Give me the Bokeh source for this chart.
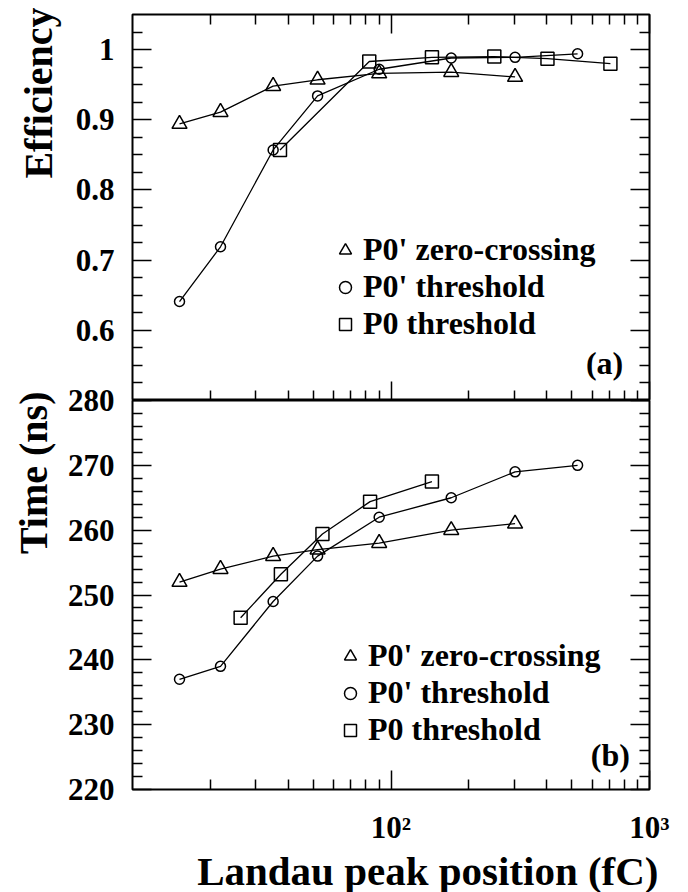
from bokeh.plotting import figure
from bokeh.layouts import column
from bokeh.models import (LogAxis, LinearAxis, FixedTicker, Range1d, Legend, LegendItem,
                          Label, CustomJSTickFormatter, Title)
from bokeh.embed import file_html
from bokeh.resources import INLINE

# ---------------- data ----------------
# Landau peak position (fC)
x_zero_cross = [15.2, 21.9, 35, 52, 90, 171, 302]
x_p0p_thr = [15.2, 21.9, 35, 52, 90, 171, 302, 527]
x_p0_thr_eff = [37.2, 82.4, 144, 251, 403, 706]
x_p0_thr_time = [26.2, 37.5, 54.3, 83, 144]

# efficiency (panel a)
eff_zero_cross = [0.894, 0.911, 0.948, 0.957, 0.966, 0.968, 0.961]
eff_p0p_thr = [0.641, 0.719, 0.857, 0.934, 0.972, 0.988, 0.989, 0.994]
eff_p0_thr = [0.857, 0.983, 0.989, 0.990, 0.987, 0.980]

# time in ns (panel b)
time_zero_cross = [252, 254, 256, 257, 258, 260, 261]
time_p0p_thr = [237, 239, 249, 256, 262, 265, 269, 270]
time_p0_thr = [246.5, 253.2, 259.4, 264.4, 267.5]

series_labels = ["P0' zero-crossing", "P0' threshold", "P0 threshold"]

x_ticks = [100, 1000]
x_tick_labels = ["10²", "10³"]
x_minor = [20, 30, 40, 50, 60, 70, 80, 90, 200, 300, 400, 500, 600, 700, 800, 900]

eff_ticks = [0.6, 0.7, 0.8, 0.9, 1]
eff_minor = [0.525, 0.55, 0.575, 0.625, 0.65, 0.675, 0.725, 0.75, 0.775,
             0.825, 0.85, 0.875, 0.925, 0.95, 0.975, 1.025]
time_ticks = [220, 230, 240, 250, 260, 270, 280]
time_minor = [t + d for t in time_ticks[:-1] for d in (2, 4, 6, 8)]

FONT = "Liberation Serif"
OVERLAP = 51


def style_axis(ax, show_labels):
    ax.axis_line_color = None
    ax.major_tick_in = 19
    ax.major_tick_out = 0
    ax.minor_tick_in = 10
    ax.minor_tick_out = 0
    ax.major_tick_line_width = 1.5
    ax.minor_tick_line_width = 1.5
    ax.major_tick_line_color = "black"
    ax.minor_tick_line_color = "black"
    ax.major_label_text_font = FONT
    ax.major_label_text_font_style = "bold"
    ax.major_label_text_color = "black"
    if show_labels:
        ax.major_label_text_font_size = "31px"
    else:
        ax.major_label_text_font_size = "1px"
        ax.major_label_text_alpha = 0
        ax.major_label_standoff = 0


def make_title(text, align, standoff, offset, size="40px"):
    return Title(text=text, align=align, standoff=standoff, offset=offset,
                 text_font=FONT, text_font_style="bold", text_font_size=size,
                 text_color="black")


def make_fig(yr, fh, top, bottom):
    p = figure(x_axis_type="log", x_range=Range1d(10, 1000), y_range=Range1d(*yr),
               frame_width=517, frame_height=fh,
               min_border_left=132, min_border_right=39,
               min_border_top=top, min_border_bottom=bottom,
               output_backend="svg", toolbar_location=None,
               x_axis_location=None, y_axis_location=None)
    p.grid.visible = False
    p.outline_line_color = "black"
    p.outline_line_width = 2
    p.background_fill_color = "white"
    p.border_fill_color = "white"
    return p


def add_series(p, xs_list, ys_list):
    markers = [("triangle", 15), ("circle", 10), ("square", 13)]
    rends = []
    for xs, ys, (m, s) in zip(xs_list, ys_list, markers):
        p.line(xs, ys, line_color="black", line_width=1.3)
        r = p.scatter(xs, ys, marker=m, size=s, line_color="black", line_width=1.5,
                      fill_color=None)
        rends.append(r)
    return rends


def add_legend(p, rends, loc):
    items = [LegendItem(label=lab, renderers=[r]) for lab, r in zip(series_labels, rends)]
    lg = Legend(items=items, location=loc, padding=0, margin=0, spacing=0,
                glyph_width=30, glyph_height=30, label_standoff=3,
                label_text_font=FONT, label_text_font_style="bold",
                label_text_font_size="32px", label_text_color="black",
                border_line_alpha=0, background_fill_alpha=0)
    p.add_layout(lg)


x_fmt = CustomJSTickFormatter(args=dict(t=x_ticks, l=x_tick_labels),
                              code="const i = t.indexOf(tick); return i >= 0 ? l[i] : '';")
y_fmt = CustomJSTickFormatter(code="return tick.toString();")

# ---------------- panel (a) ----------------
p1 = make_fig((0.5, 1.05), 386, 14, 0)
r1 = add_series(p1, [x_zero_cross, x_p0p_thr, x_p0_thr_eff],
                [eff_zero_cross, eff_p0p_thr, eff_p0_thr])
add_legend(p1, r1, (198, 58))

ax = LinearAxis(ticker=FixedTicker(ticks=eff_ticks, minor_ticks=eff_minor), formatter=y_fmt)
style_axis(ax, True)
ax.major_label_standoff = 18
p1.add_layout(ax, "left")
p1.add_layout(make_title("Efficiency", "right", 23, -7), "left")

ax = LinearAxis(ticker=FixedTicker(ticks=eff_ticks, minor_ticks=eff_minor))
style_axis(ax, False)
p1.add_layout(ax, "right")

for side in ("above", "below"):
    ax = LogAxis(ticker=FixedTicker(ticks=x_ticks, minor_ticks=x_minor))
    style_axis(ax, False)
    p1.add_layout(ax, side)

p1.add_layout(Label(x=670, y=0.553, text="(a)", text_align="center", text_baseline="middle",
                    text_font=FONT, text_font_style="bold", text_font_size="32px",
                    text_color="black"))

# ---------------- panel (b) ----------------
p2 = make_fig((220, 280), 389, OVERLAP, 103)
p2.border_fill_alpha = 0
p2.margin = (-OVERLAP, 0, 0, 0)
r2 = add_series(p2, [x_zero_cross, x_p0p_thr, x_p0_thr_time],
                [time_zero_cross, time_p0p_thr, time_p0_thr])
add_legend(p2, r2, (203, 41))

ax = LinearAxis(ticker=FixedTicker(ticks=time_ticks, minor_ticks=time_minor))
style_axis(ax, True)
ax.major_label_standoff = 18
p2.add_layout(ax, "left")
p2.add_layout(make_title("Time (ns)", "right", 17, -9), "left")

ax = LinearAxis(ticker=FixedTicker(ticks=time_ticks, minor_ticks=time_minor))
style_axis(ax, False)
p2.add_layout(ax, "right")

ax = LogAxis(ticker=FixedTicker(ticks=x_ticks, minor_ticks=x_minor), formatter=x_fmt)
style_axis(ax, True)
ax.major_label_standoff = 20
p2.add_layout(ax, "below")
p2.add_layout(make_title("Landau peak position (fC)", "right", -4, -9, "41px"), "below")

p2.add_layout(Label(x=706, y=225.3, text="(b)", text_align="center", text_baseline="middle",
                    text_font=FONT, text_font_style="bold", text_font_size="32px",
                    text_color="black"))

layout = column(p1, p2, spacing=0)
open("out.html", "w").write(file_html(layout, INLINE))
